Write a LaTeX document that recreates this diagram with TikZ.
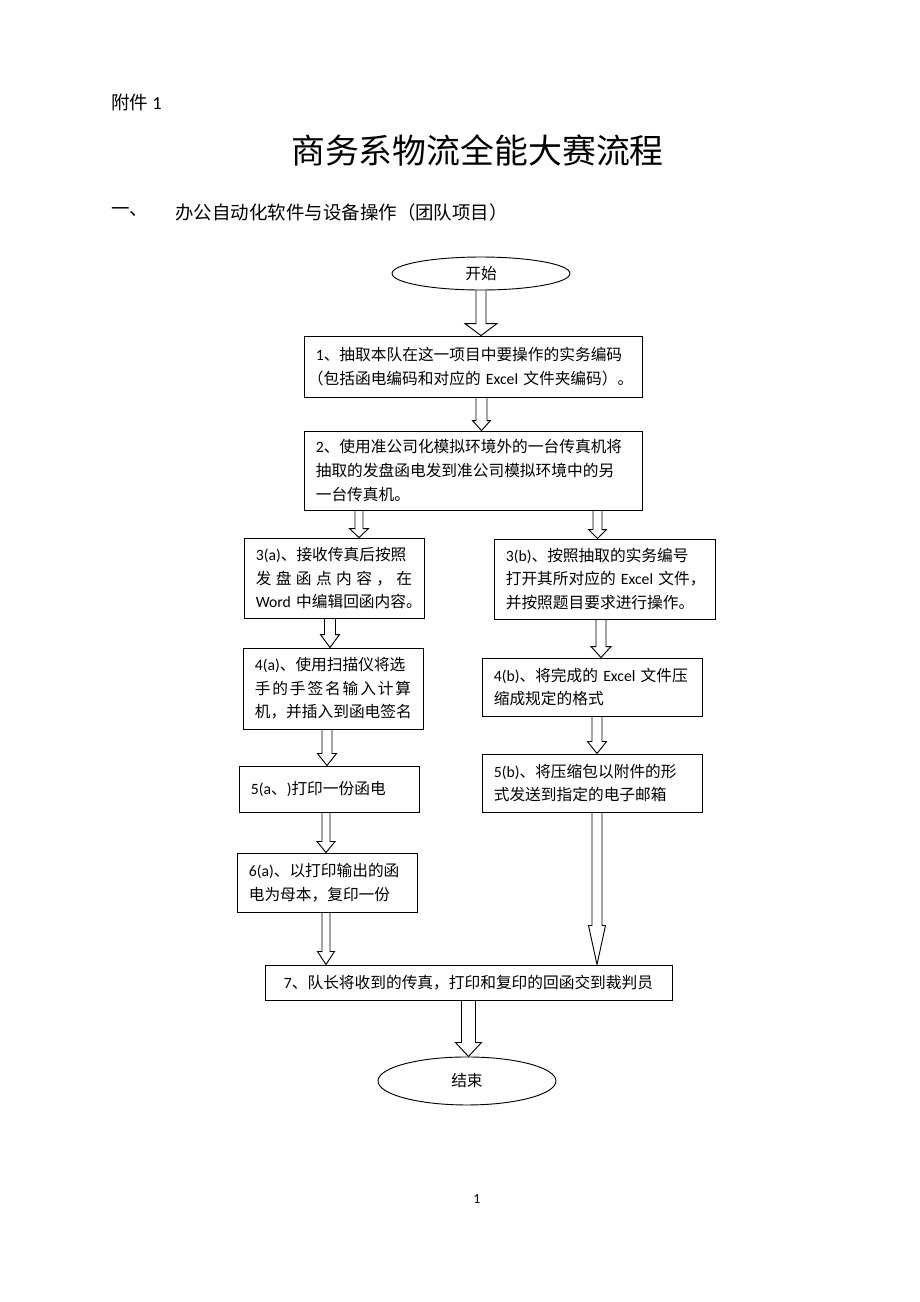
\documentclass[tikz,border=0pt]{standalone}
\usepackage{fontspec}
\setmainfont{Noto Sans CJK SC}
\newfontfamily\lat{Carlito}
\usetikzlibrary{shapes,calc}
\usetikzlibrary{positioning}
\newdimen\pxu
\pxu=0.6495pt
\newcommand{\en}[1]{\mbox{\lat #1}}
\tikzset{
    box/.style={
           rectangle,
           draw=black, line width=0.6pt,
           inner xsep=0.27cm,
           inner ysep=0pt,
           align=left,
           font=\fontsize{10.2}{15.3}\selectfont,
           },
    term/.style={
           ellipse,
           draw=black, line width=0.6pt,
           inner sep=0pt,
           minimum width=4.063cm,
           font=\fontsize{10.2}{15.3}\selectfont,
           },
    fat/.style={
           draw=black,
           line width=0.6pt,}
}
% hollow block arrow: from, to, shaft half width, head half width, head length
\newcommand{\blockarrow}[5]{%
  \path[fat] let \p1=(#1), \p2=(#2) in
    (\x1-#3*\pxu,\y1) -- (\x1-#3*\pxu,\y2+#5*\pxu) -- (\x1-#4*\pxu,\y2+#5*\pxu)
    -- (\x1,\y2)
    -- (\x1+#4*\pxu,\y2+#5*\pxu) -- (\x1+#3*\pxu,\y2+#5*\pxu) -- (\x1+#3*\pxu,\y1);}

\begin{document}
\begin{tikzpicture}[x=0.0228261cm, y=-0.0228261cm]
\useasboundingbox (0,0) rectangle (920,1302);
% PAGE HEADER
\node[anchor=west, inner sep=0pt, font=\fontsize{12}{14}\selectfont] (ANNEX) at (111,102) {附件~\en{1}};
\node[inner sep=0pt, font=\fontsize{22}{26}\selectfont] (TITLE) at (477.5,150) {商务系物流全能大赛流程};
\node[anchor=west, inner sep=0pt, font=\fontsize{12}{14}\selectfont] (SECNUM) at (111,212) {一、};
\node[anchor=west, inner sep=0pt, font=\fontsize{12}{14}\selectfont] (SECTION) at (175,212) {办公自动化软件与设备操作（团队项目）};
% FLOW
% Position of start (START)
\node[term, minimum height=0.753cm] (START) at (481,273.5) {开始};
% Position of drawing the codes (DRAW)
\node[box,
text width = 7.175cm,
minimum height = 1.392cm,
below of = START,
node distance = 2.123cm,
xshift = -0.183cm] (DRAW)
{\en{1}、抽取本队在这一项目中要操作的实务编码\\
\hspace*{-.5em}（包括函电编码和对应的~\en{Excel}~文件夹编码）。};
% Position of sending the fax (FAX)
\node[box,
text width = 7.175cm,
minimum height = 1.803cm,
below of = DRAW,
node distance = 2.374cm] (FAX)
{\en{2}、使用准公司化模拟环境外的一台传真机将\\
抽取的发盘函电发到准公司模拟环境中的另\\
一台传真机。};
% Position of the reply (REPLY)
\node[box,
text width = 3.569cm,
minimum height = 1.826cm,
below of = FAX,
node distance = 2.454cm,
xshift = -3.173cm] (REPLY)
{\en{3(a)}、接收传真后按照\\
发\hfill 盘\hfill 函\hfill 点\hfill 内\hfill 容\hfill ，\hfill 在\\
\en{Word}~中编辑回函内容。};
% Position of opening the file (OPEN)
\node[box,
text width = 4.505cm,
minimum height = 1.826cm,
below of = FAX,
node distance = 2.477cm,
xshift = 3.002cm] (OPEN)
{\en{3(b)}、按照抽取的实务编号\\
打开其所对应的~\en{Excel}~文件，\\
并按照题目要求进行操作。};
% Position of scanning (SCAN)
\node[box,
text width = 3.569cm,
minimum height = 1.849cm,
below of = REPLY,
node distance = 2.522cm,
xshift = -0.023cm] (SCAN)
{\en{4(a)}、使用扫描仪将选\\
手\hfill 的\hfill 手\hfill 签\hfill 名\hfill 输\hfill 入\hfill 计\hfill 算\\
机，并插入到函电签名};
% Position of zipping (ZIP)
\node[box,
text width = 4.482cm,
minimum height = 1.324cm,
below of = OPEN,
node distance = 2.465cm,
xshift = -0.285cm] (ZIP)
{\en{4(b)}、将完成的~\en{Excel}~文件压\\
缩成规定的格式};
% Position of printing (PRINT)
\node[box,
text width = 3.569cm,
minimum height = 1.050cm,
below of = SCAN,
node distance = 2.294cm,
xshift = -0.091cm] (PRINT)
{\en{5(a}、\en{)}打印一份函电};
% Position of mailing (MAIL)
\node[box,
text width = 4.482cm,
minimum height = 1.324cm,
below of = ZIP,
node distance = 2.191cm] (MAIL)
{\en{5(b)}、将压缩包以附件的形\\
式发送到指定的电子邮箱};
% Position of copying (COPY)
\node[box,
text width = 3.569cm,
minimum height = 1.347cm,
below of = PRINT,
node distance = 2.134cm,
xshift = -0.046cm] (COPY)
{\en{6(a)}、以打印输出的函\\
电为母本，复印一份};
% Position of handing in (HANDIN)
\node[box,
text width = 8.75cm,
align = center,
minimum height = 0.799cm,
below of = COPY,
node distance = 2.283cm,
xshift = 3.230cm] (HANDIN)
{\en{7}、队长将收到的传真，打印和复印的回函交到裁判员};
% Position of end (END)
\node[term,
minimum height = 1.096cm,
below of = HANDIN,
node distance = 2.248cm,
xshift = -0.034cm] (END)
{结束};
% Draw arrows on graph
\blockarrow{START.south}{DRAW.north}{5}{16}{12}
\blockarrow{[xshift=0.194cm]DRAW.south}{FAX.north}{5.5}{9}{10}
\blockarrow{[xshift=-2.602cm]FAX.south}{REPLY.north}{4}{9.5}{9}
\blockarrow{[xshift=2.842cm]FAX.south}{OPEN.north}{4.5}{9}{9}
\blockarrow{[xshift=-0.091cm]REPLY.south}{SCAN.north}{5.5}{9.5}{13}
\blockarrow{[xshift=-0.137cm]SCAN.south}{PRINT.north}{5}{9.5}{12}
\blockarrow{[xshift=-0.068cm]PRINT.south}{COPY.north}{4}{9}{11}
\blockarrow{[xshift=-0.023cm]COPY.south}{HANDIN.north}{4}{8.5}{13}
\blockarrow{[xshift=-0.080cm]OPEN.south}{ZIP.north}{5}{10}{11}
\blockarrow{[xshift=0.114cm]ZIP.south}{MAIL.north}{5}{9.5}{12}
\blockarrow{[xshift=0.114cm]MAIL.south}{HANDIN.north}{5}{8.5}{39}
\blockarrow{HANDIN.south}{END.north}{7}{13}{14}
% Page number
\node[inner sep=0pt, font=\fontsize{9}{11}\selectfont] (PAGENO) at (477,1199) {\en{1}};
\end{tikzpicture}
\end{document}
